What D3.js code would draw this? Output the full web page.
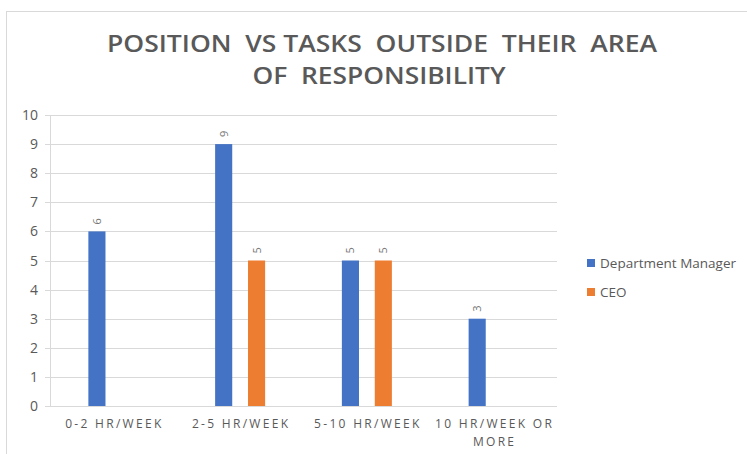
<!DOCTYPE html>
<html><head><meta charset="utf-8">
<script src="https://cdn.jsdelivr.net/npm/d3@7"></script>
<style>body{margin:0;background:#fff;}svg{display:block;}</style>
</head><body>
<script>
const categories = ["0-2 HR/WEEK", "2-5 HR/WEEK", "5-10 HR/WEEK", "10 HR/WEEK OR MORE"];
const seriesNames = ["Department Manager", "CEO"];
const deptManager = [6, 9, 5, 3];
const ceo = [null, 5, 5, null];
const yTicks = [0,1,2,3,4,5,6,7,8,9,10];
const titleLines = ["POSITION  VS TASKS  OUTSIDE  THEIR  AREA", "OF  RESPONSIBILITY"];
const colors = ["#4472C4", "#ED7D31"];

(function(){
const W = 747, H = 454;
const svg = d3.select("body").append("svg").attr("width", W).attr("height", H);
svg.append("rect").attr("x", 6.5).attr("y", 11.5).attr("width", W).attr("height", H)
  .attr("fill", "#fff").attr("stroke", "#d9d9d9");

const pL = 50, pR = 557, pT = 115, pB = 406;
const y = d3.scaleLinear().domain([0, 10]).range([pB, pT]);
const x0 = d3.scaleBand().domain(categories).range([pL, pR]);
const x1 = d3.scaleBand().domain(seriesNames).range([0, 50]).paddingInner(0.48);
const offs = x0.bandwidth() / 2 - 25;

const txt = "#595959";
svg.append("g").selectAll("line").data(yTicks).join("line")
  .attr("x1", pL - 5).attr("x2", pR).attr("y1", d => Math.round(y(d)) + 0.5).attr("y2", d => Math.round(y(d)) + 0.5)
  .attr("stroke", "#d9d9d9").attr("stroke-width", 1);
svg.append("line").attr("x1", pL + 0.5).attr("x2", pL + 0.5).attr("y1", pT).attr("y2", pB)
  .attr("stroke", "#d9d9d9");
svg.append("g").selectAll("text").data(yTicks).join("text")
  .attr("x", 38).attr("y", d => y(d) + 5).attr("text-anchor", "end")
  .attr("font-family", "'Open Sans', sans-serif").attr("font-size", 14).attr("fill", txt)
  .text(d => d);

const data = [];
categories.forEach((c, i) => {
  [deptManager[i], ceo[i]].forEach((v, s) => { if (v != null) data.push({c, s: seriesNames[s], si: s, v}); });
});
svg.append("g").selectAll("rect").data(data).join("rect")
  .attr("x", d => x0(d.c) + offs + x1(d.s)).attr("width", x1.bandwidth())
  .attr("y", d => y(d.v)).attr("height", d => y(0) - y(d.v))
  .attr("fill", d => colors[d.si]);
svg.append("g").selectAll("text").data(data).join("text")
  .attr("transform", d => `translate(${x0(d.c) + offs + x1(d.s) + x1.bandwidth()/2 + 4},${y(d.v) - 7}) rotate(-90)`)
  .attr("text-anchor", "start")
  .attr("font-family", "'Open Sans', sans-serif").attr("font-size", 11).attr("fill", "#757575")
  .text(d => d.v);

const xl = svg.append("g");
const wrap = {"10 HR/WEEK OR MORE": ["10 HR/WEEK OR", "MORE"]};
categories.forEach(c => {
  const lines = wrap[c] || [c];
  lines.forEach((l, k) => {
    xl.append("text").attr("x", x0(c) + x0.bandwidth()/2 + 1).attr("y", 428 + k * 18)
      .attr("text-anchor", "middle").attr("font-family", "'Open Sans', sans-serif")
      .attr("font-size", 12).attr("letter-spacing", 2.3).attr("fill", txt).text(l);
  });
});

const tl = [[382, 550], [379, 253]];
titleLines.forEach((l, k) => {
  svg.append("text").attr("x", tl[k][0] - tl[k][1]/2).attr("y", 52 + k * 32)
    .attr("font-family", "'Open Sans', sans-serif").attr("font-weight", 600)
    .attr("font-size", 24).attr("fill", txt)
    .attr("textLength", tl[k][1]).attr("lengthAdjust", "spacingAndGlyphs")
    .attr("style", "white-space:pre").text(l);
});

const lg = svg.append("g");
seriesNames.forEach((n, i) => {
  lg.append("rect").attr("x", 587).attr("y", 259 + i * 29).attr("width", 8).attr("height", 8).attr("fill", colors[i]);
  lg.append("text").attr("x", 600).attr("y", 268 + i * 29).attr("font-family", "'Open Sans', sans-serif")
    .attr("font-size", 13.5).attr("fill", txt).text(n);
});
})();
</script>
</body></html>
